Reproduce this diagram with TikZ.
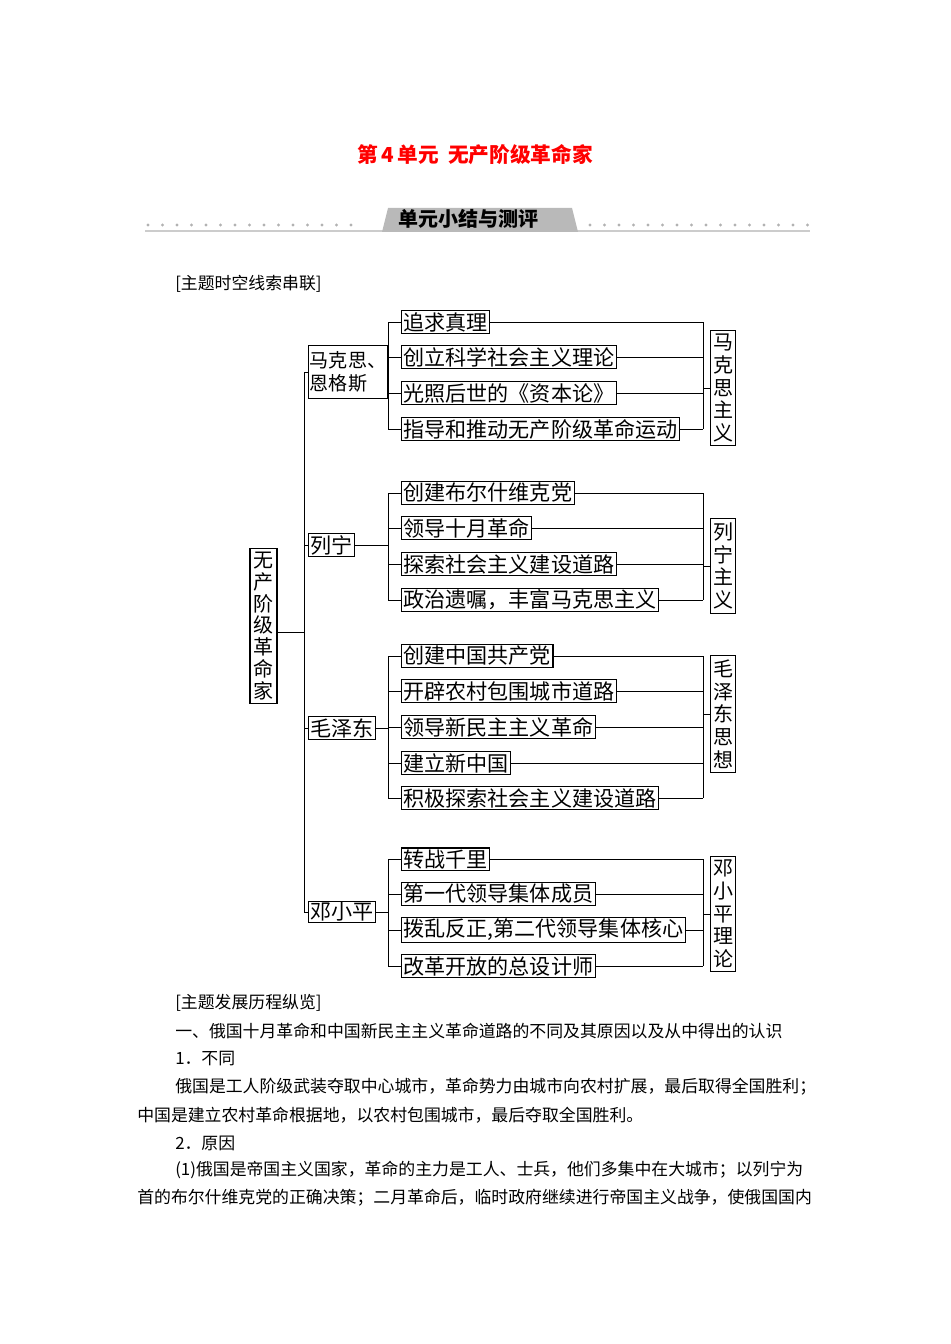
\documentclass[tikz,border=0pt]{standalone}
\usepackage{fontspec}
\setmainfont{Noto Sans CJK SC}
\begin{document}
\begin{tikzpicture}[x=0.75pt,y=-0.75pt,
  bx/.style={draw,line width=0.8pt,inner xsep=1.5pt,inner ysep=1pt,font=\fontsize{15.8}{17}\selectfont},
  it/.style={bx,anchor=west},
  vb/.style={draw,line width=0.8pt,align=center,inner xsep=2pt,inner ysep=3pt,font=\fontsize{15}{17}\selectfont},
  ln/.style={line width=0.7pt},
  body/.style={anchor=west,inner sep=0pt,font=\fontsize{12.65}{13}\selectfont}]
\useasboundingbox (0,0) rectangle (950,1344);
\node[text=red,font=\fontsize{15.5}{17}\selectfont\bfseries] (title) at (475,155) {第\,4\,单元\ \ 无产阶级革命家};
% banner
\fill[gray!40] (145,230) rectangle (810,232);
\foreach \i in {0,...,14} {\fill[gray!60] (148+\i*14.5,225) circle (1.6);}
\foreach \i in {0,...,15} {\fill[gray!60] (590+\i*14.5,225) circle (1.6);}
\fill[gray!55] (382,232) -- (388,208) -- (572,208) -- (578,232) -- cycle;
\node[font=\fontsize{15}{17}\selectfont\bfseries] (ban) at (468,219) {单元小结与测评};
\node[body] (h1) at (175,284) {[主题时空线索串联]};
% root
\node[vb,font=\fontsize{15}{16.3}\selectfont,minimum width=27*0.75pt,minimum height=152*0.75pt] (root) at (263.5,626) {无\\产\\阶\\级\\革\\命\\家};
\coordinate (rj) at (304,632);
\draw[ln] (root.east |- rj) -- (rj);
\draw[ln] (304,372) -- (304,912);
% level 1
\node[draw,line width=0.8pt,inner xsep=1pt,inner ysep=5pt,font=\fontsize{14.3}{17}\selectfont,anchor=west,align=left] (m) at (308,372) {马克思、\\恩格斯};
\node[bx,anchor=west] (l) at (308,545) {列宁};
\node[bx,anchor=west] (z) at (308,728) {毛泽东};
\node[bx,anchor=west] (d) at (308,912) {邓小平};
\foreach \n/\y in {m/372,l/545,z/728,d/912} {\draw[ln] (304,\y) -- (\n.west);}
% Marx
\node[it] (m1) at (401,322) {追求真理};
\node[it] (m2) at (401,357) {创立科学社会主义理论};
\node[it] (m3) at (401,393) {光照后世的《资本论》};
\node[it] (m4) at (401,429) {指导和推动无产阶级革命运动};
\node[vb] (mr) at (723,388) {马\\克\\思\\主\\义};
\draw[ln] (m.east) -- (388,372);
\draw[ln] (388,322) -- (388,429); \draw[ln] (703,322) -- (703,429); \draw[ln] (703,388) -- (mr.west);
\foreach \n/\y in {m1/322,m2/357,m3/393,m4/429} {\draw[ln] (388,\y) -- (\n.west); \draw[ln] (\n.east) -- (703,\y);}
% Lenin
\node[it] (l1) at (401,493) {创建布尔什维克党};
\node[it] (l2) at (401,528) {领导十月革命};
\node[it] (l3) at (401,564) {探索社会主义建设道路};
\node[it] (l4) at (401,600) {政治遗嘱，丰富马克思主义};
\node[vb] (lr) at (723,566) {列\\宁\\主\\义};
\draw[ln] (l.east) -- (388,545);
\draw[ln] (388,493) -- (388,600); \draw[ln] (703,493) -- (703,600); \draw[ln] (703,566) -- (lr.west);
\foreach \n/\y in {l1/493,l2/528,l3/564,l4/600} {\draw[ln] (388,\y) -- (\n.west); \draw[ln] (\n.east) -- (703,\y);}
% Mao
\node[it] (z1) at (401,656) {创建中国共产党};
\node[it] (z2) at (401,691) {开辟农村包围城市道路};
\node[it] (z3) at (401,727) {领导新民主主义革命};
\node[it] (z4) at (401,763) {建立新中国};
\node[it] (z5) at (401,798) {积极探索社会主义建设道路};
\node[vb] (zr) at (723,714) {毛\\泽\\东\\思\\想};
\draw[ln] (z.east) -- (388,728);
\draw[ln] (388,656) -- (388,798); \draw[ln] (703,656) -- (703,798); \draw[ln] (703,714) -- (zr.west);
\foreach \n/\y in {z1/656,z2/691,z3/727,z4/763,z5/798} {\draw[ln] (388,\y) -- (\n.west); \draw[ln] (\n.east) -- (703,\y);}
% Deng
\node[it] (d1) at (401,859) {转战千里};
\node[it] (d2) at (401,894) {第一代领导集体成员};
\node[it] (d3) at (401,930) {拨乱反正,第二代领导集体核心};
\node[it] (d4) at (401,966) {改革开放的总设计师};
\node[vb] (dr) at (723,914) {邓\\小\\平\\理\\论};
\draw[ln] (d.east) -- (388,912);
\draw[ln] (388,859) -- (388,966); \draw[ln] (703,859) -- (703,966); \draw[ln] (703,914) -- (dr.west);
\foreach \n/\y in {d1/859,d2/894,d3/930,d4/966} {\draw[ln] (388,\y) -- (\n.west); \draw[ln] (\n.east) -- (703,\y);}
% body text
\node[body] (t1) at (175,1003) {[主题发展历程纵览]};
\node[body] (t2) at (175,1031) {一、俄国十月革命和中国新民主主义革命道路的不同及其原因以及从中得出的认识};
\node[body] (t3) at (175,1059) {1．不同};
\node[body] (t4) at (175,1087) {俄国是工人阶级武装夺取中心城市，革命势力由城市向农村扩展，最后取得全国胜利；};
\node[body] (t5) at (137,1115) {中国是建立农村革命根据地，以农村包围城市，最后夺取全国胜利。};
\node[body] (t6) at (175,1143) {2．原因};
\node[body] (t7) at (175,1170) {(1)俄国是帝国主义国家，革命的主力是工人、士兵，他们多集中在大城市；以列宁为};
\node[body] (t8) at (137,1198) {首的布尔什维克党的正确决策；二月革命后，临时政府继续进行帝国主义战争，使俄国国内};
\end{tikzpicture}
\end{document}
